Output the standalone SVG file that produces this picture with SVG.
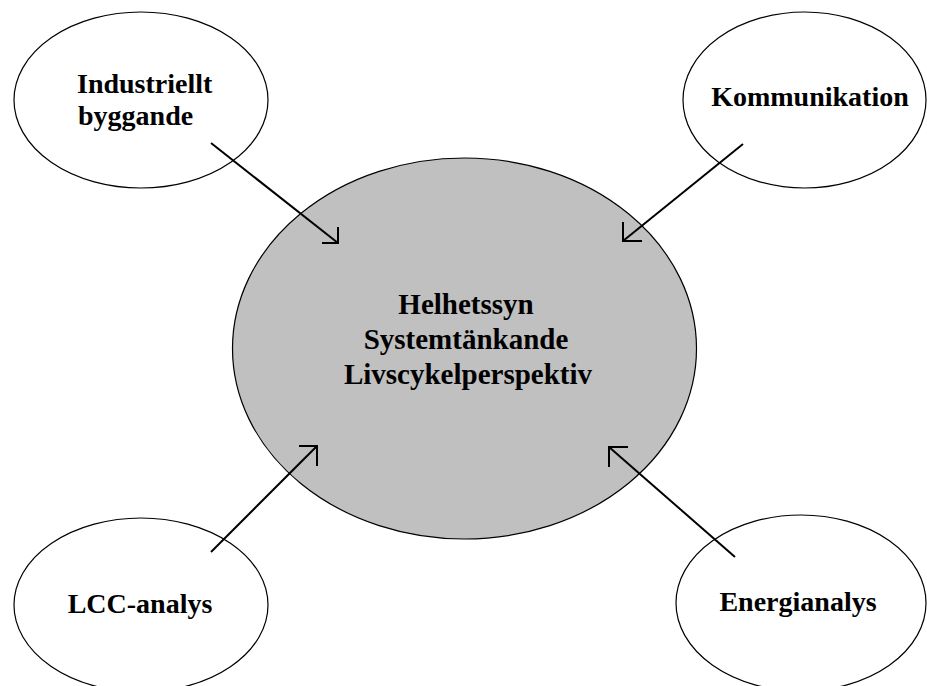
<svg xmlns="http://www.w3.org/2000/svg" width="927" height="686" viewBox="0 0 927 686">
<style>
.node{fill:#ffffff;stroke:#000000;stroke-width:1.2}
.center{fill:#c0c0c0;stroke:#000000;stroke-width:1.2}
.lbl{font-family:"Liberation Serif","Times New Roman",serif;font-weight:bold;font-size:28px;fill:#000000}
.clbl{font-family:"Liberation Serif","Times New Roman",serif;font-weight:bold;font-size:29px;fill:#000000;text-anchor:middle}
.mid{text-anchor:middle}
.conn{stroke:#000000;stroke-width:2;fill:none}
</style>
<rect width="927" height="686" fill="#ffffff"/>
<g id="center-node">
<ellipse class="center" cx="464.5" cy="348.5" rx="232" ry="190.5"/>
<text class="clbl" x="466" y="314">Helhetssyn</text>
<text class="clbl" x="466" y="349">Systemtänkande</text>
<text class="clbl" x="468" y="384">Livscykelperspektiv</text>
</g>
<g id="node-industriellt">
<ellipse class="node" cx="141" cy="100" rx="127" ry="88"/>
<text class="lbl" x="77" y="93">Industriellt</text>
<text class="lbl" x="78" y="125">byggande</text>
</g>
<g id="node-kommunikation">
<ellipse class="node" cx="804.5" cy="100" rx="121.5" ry="88"/>
<text class="lbl mid" x="810" y="106">Kommunikation</text>
</g>
<g id="node-lcc">
<ellipse class="node" cx="141" cy="605" rx="127" ry="87"/>
<text class="lbl mid" x="140" y="613">LCC-analys</text>
</g>
<g id="node-energi">
<ellipse class="node" cx="801" cy="603" rx="125" ry="88"/>
<text class="lbl mid" x="798" y="611">Energianalys</text>
</g>
<g id="connectors">
<line class="conn" x1="211" y1="143" x2="338" y2="243"/>
<polyline class="conn" points="322,243 338,243 338,227"/>
<line class="conn" x1="743" y1="144" x2="623" y2="241"/>
<polyline class="conn" points="623,222 623,241 642,241"/>
<line class="conn" x1="211" y1="552" x2="317" y2="446"/>
<polyline class="conn" points="299,446 317,446 317,466"/>
<line class="conn" x1="735" y1="557" x2="609" y2="447"/>
<polyline class="conn" points="628,447 609,447 609,467"/>
</g>
</svg>
